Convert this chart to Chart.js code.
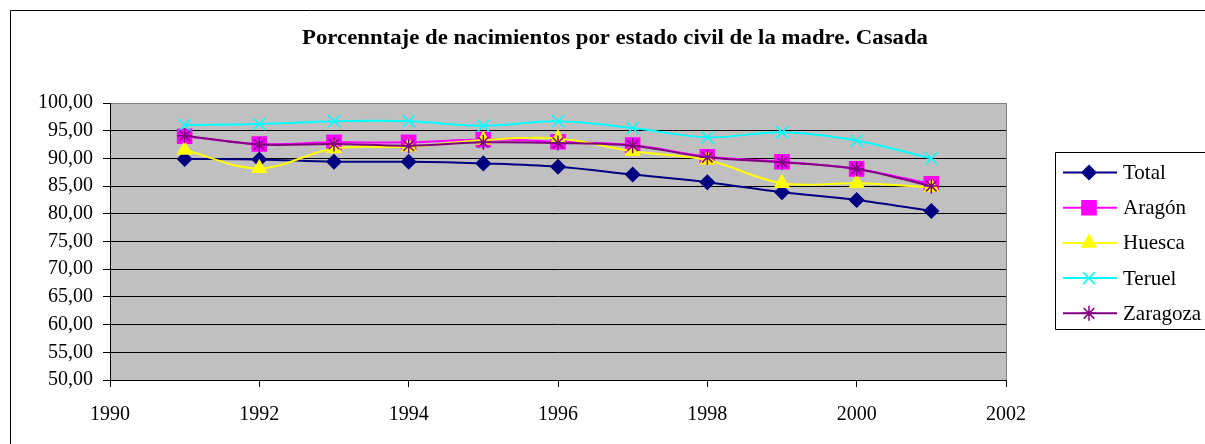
<!DOCTYPE html>
<html lang="es">

<head>
    <meta charset="UTF-8" />
    <title>Nacimientos - Casada</title>
    <script src="https://cdn.jsdelivr.net/npm/chart.js"></script>
    <style>
        body { margin: 0; background: #fff; }
        canvas { display: block; }
    </style>
</head>

<body>
    <canvas id="grafico_casada" width="1205" height="444"></canvas>
</body>

<script>

    // datos
    var anios = [1991, 1992, 1993, 1994, 1995, 1996, 1997, 1998, 1999, 2000, 2001]
    var total = [89.9, 89.8, 89.4, 89.4, 89.1, 88.5, 87.1, 85.7, 83.9, 82.5, 80.5]
    var aragon = [94.0, 92.6, 92.9, 92.9, 93.4, 93.0, 92.4, 90.3, 89.4, 88.1, 85.4]
    var huesca = [91.5, 88.2, 91.8, 92.1, 93.3, 93.6, 91.3, 89.7, 85.5, 85.5, 84.8]
    var teruel = [96.0, 96.2, 96.7, 96.7, 95.9, 96.7, 95.5, 93.8, 94.7, 93.2, 90.0]
    var zaragoza = [94.1, 92.5, 92.6, 92.3, 92.9, 92.8, 92.3, 90.2, 89.3, 88.1, 85.0]

    var titulo = 'Porcenntaje de nacimientos por estado civil de la madre. Casada'
    var fuente = '"Liberation Serif", "Times New Roman", serif'

    function serie(nombre, valores, color, estilo, radio, orden) {
        return {
            label: nombre,
            data: anios.map((a, i) => ({ x: a, y: valores[i] })),
            borderColor: color,
            backgroundColor: color,
            borderWidth: 2,
            tension: 0.35,
            pointStyle: estilo,
            pointRadius: radio,
            pointBorderWidth: 1.5,
            pointBackgroundColor: color,
            pointBorderColor: color,
            order: orden
        }
    }

    var series = [
        serie('Total', total, '#000080', 'rectRot', 7, 4),
        serie('Aragón', aragon, '#FF00FF', 'rect', 10, 3),
        serie('Huesca', huesca, '#FFFF00', 'triangle', 8, 2),
        serie('Teruel', teruel, '#00FFFF', 'crossRot', 8.5, 1),
        serie('Zaragoza', zaragoza, '#800080', 'star', 7.5, 0)
    ]

    // marco, fondo gris, titulo y leyenda
    const decorado = {
        id: 'decorado',
        beforeDraw(chart) {
            const ctx = chart.ctx
            const a = chart.chartArea
            ctx.save()
            ctx.fillStyle = '#fff'
            ctx.fillRect(0, 0, chart.width, chart.height)
            ctx.strokeStyle = '#000'
            ctx.lineWidth = 1
            ctx.beginPath()
            ctx.moveTo(10.5, chart.height + 2)
            ctx.lineTo(10.5, 10.5)
            ctx.lineTo(chart.width + 2, 10.5)
            ctx.stroke()
            ctx.fillStyle = '#C0C0C0'
            ctx.fillRect(a.left, a.top, a.right - a.left, a.bottom - a.top)
            ctx.strokeStyle = '#808080'
            ctx.beginPath()
            ctx.moveTo(a.right + 0.5, a.bottom)
            ctx.lineTo(a.right + 0.5, a.top)
            ctx.stroke()

            // titulo
            ctx.font = 'bold 20px ' + fuente
            const w = ctx.measureText(titulo).width
            const esc = 626 / w
            ctx.translate(615, 44)
            ctx.scale(esc, 1)
            ctx.fillStyle = '#000'
            ctx.textAlign = 'center'
            ctx.textBaseline = 'alphabetic'
            ctx.fillText(titulo, 0, 0)
            ctx.restore()
        },
        afterDraw(chart) {
            const ctx = chart.ctx
            ctx.save()
            ctx.strokeStyle = '#000'
            ctx.lineWidth = 1
            ctx.beginPath()
            ctx.moveTo(1055.5, 329.5)
            ctx.lineTo(1055.5, 152.5)
            ctx.lineTo(chart.width + 2, 152.5)
            ctx.moveTo(1055.5, 329.5)
            ctx.lineTo(chart.width + 2, 329.5)
            ctx.stroke()
            ctx.font = '21px ' + fuente
            ctx.textBaseline = 'middle'
            ctx.textAlign = 'left'
            series.forEach((s, i) => {
                const y = 172.5 + i * 35.2
                ctx.strokeStyle = s.borderColor
                ctx.fillStyle = s.borderColor
                ctx.lineWidth = 2
                ctx.beginPath()
                ctx.moveTo(1063, y)
                ctx.lineTo(1117, y)
                ctx.stroke()
                ctx.lineWidth = 1.5
                Chart.helpers.drawPoint(ctx, {
                    pointStyle: s.pointStyle,
                    radius: s.pointRadius,
                    rotation: 0,
                    borderWidth: 1.5
                }, 1089, y)
                ctx.fillStyle = '#000'
                ctx.fillText(s.label, 1123, y + 1)
            })
            ctx.restore()
        }
    }

    new Chart(document.getElementById('grafico_casada'), {
        type: 'line',
        data: { datasets: series },
        options: {
            responsive: false,
            animation: false,
            layout: { padding: { left: 0, top: 103, right: 199, bottom: 24 } },
            plugins: {
                legend: { display: false },
                tooltip: { enabled: false }
            },
            scales: {
                x: {
                    type: 'linear',
                    min: 1990,
                    max: 2002,
                    ticks: {
                        stepSize: 2,
                        color: '#000',
                        padding: 16,
                        font: { family: fuente, size: 20 },
                        callback: v => String(v)
                    },
                    grid: { drawOnChartArea: false, color: '#000', tickLength: 7 },
                    border: { color: '#000', width: 1 },
                    afterFit(scale) { scale.height = 40 }
                },
                y: {
                    min: 50,
                    max: 100,
                    ticks: {
                        stepSize: 5,
                        color: '#000',
                        padding: 10,
                        font: { family: fuente, size: 20 },
                        callback: v => v.toFixed(2).replace('.', ',')
                    },
                    grid: {
                        color: ctx => (ctx.tick && ctx.tick.value === 100) ? '#808080' : '#000',
                        tickColor: '#000',
                        tickLength: 7
                    },
                    border: { color: '#000', width: 1 },
                    afterFit(scale) { scale.width = 110 }
                }
            }
        },
        plugins: [decorado]
    });

</script>

</html>
